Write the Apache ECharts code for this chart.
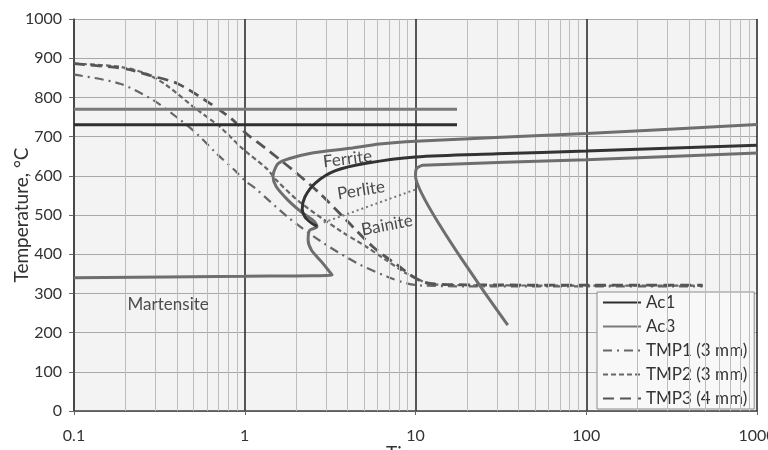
<!DOCTYPE html>
<html>
<head>
<meta charset="utf-8">
<script src="https://cdn.jsdelivr.net/npm/echarts@6/dist/echarts.min.js"></script>
<style>
html,body{margin:0;padding:0;background:#fff;}
#chart{width:768px;height:450px;}
</style>
</head>
<body>
<div id="chart"></div>
<script>
// ---- data (time in s, temperature in °C) ----
const xTickLabels = ['0.1', '1', '10', '100', '1000'];
const minorGridX = [0.2,0.3,0.4,0.5,0.6,0.7,0.8,0.9, 2,3,4,5,6,7,8,9, 20,30,40,50,60,70,80,90, 200,300,400,500,600,700,800,900];

const ac1 = [[0.1, 730], [17.5, 730]];
const ac3 = [[0.1, 770], [17.5, 770]];

const tmp1 = [[0.1,858],[0.186,835],[0.291,793],[0.398,750],[0.522,708],[0.683,657],[0.874,614],[1.0,588],[1.145,569],[1.83,491],[2.81,432],[4.6,376],[6.89,342],[9.0,325],[11,320],[20,318],[100,318],[480,318]];
const tmp2 = [[0.1,886],[0.186,878],[0.266,860],[0.348,831],[0.5,776],[0.714,725],[0.977,668],[1.34,619],[1.53,589],[2.1,533],[3.59,461],[5.15,419],[6.73,385],[8.83,351],[10.6,334],[12,324],[20,321],[100,320],[480,320]];
const tmp3 = [[0.1,886],[0.2,873],[0.278,856],[0.4,836],[0.6,790],[0.854,742],[1.02,708],[1.28,675],[1.92,614],[2.75,555],[3.93,487],[5.63,419],[8.06,368],[9.5,345],[11,330],[13,324],[20,322],[100,321],[480,321]];

// ferrite start curve + bainite nose + martensite start line
const ferriteCurve = [[1000,731],[100,708],[10,688],[6.16,681],[4.11,670],[2.4,657],[1.83,644],[1.566,631],[1.48,610],[1.465,597],[1.53,572],[1.79,538],[2.14,508],[2.56,483],[2.65,470],[2.4,461],[2.35,436],[2.46,410],[2.81,381],[3.25,347],[1,344],[0.1,340]];
// pearlite start curve
const perliteCurve = [[1000,678],[100,663],[30,656],[10,648],[5.15,632],[3.4,613],[2.6,582],[2.25,546],[2.17,515],[2.25,495],[2.45,480],[2.65,471]];
// finish curve
const finishCurve = [[1000,658],[100,641],[11,627],[10.15,619],[10,600],[34.7,219]];
// pearlite / bainite boundary
const boundary = [[2.9,481],[10,565]];

const regionLabels = [
  {name:'Ferrite', value:[4.0,643], rot:7},
  {name:'Perlite', value:[4.8,563], rot:9},
  {name:'Bainite', value:[6.8,474], rot:11},
  {name:'Martensite', value:[0.356,272], rot:0}
];

const FONT = 'Lato';
const chart = echarts.init(document.getElementById('chart'), null, {renderer:'canvas'});

const option = {
  animation: false,
  backgroundColor: '#ffffff',
  textStyle: {fontFamily: FONT},
  grid: {left: 74, right: 11, top: 19, bottom: 39, show: true, backgroundColor: '#f3f3f3', borderWidth: 0,
    containLabel: false, outerBoundsMode: 'none'},
  legend: {
    orient: 'vertical', left: 597, top: 292,
    data: ['Ac1','Ac3','TMP1 (3 mm)','TMP2 (3 mm)','TMP3 (4 mm)'],
    itemWidth: 38, itemHeight: 14, itemGap: 7,
    padding: [2, 7, 2, 5],
    backgroundColor: '#f8f8f8', borderColor: '#8a8a8a', borderWidth: 1,
    itemStyle: {opacity: 0},
    textStyle: {fontFamily: FONT, fontSize: 17, lineHeight: 14, color: '#333'}
  },
  xAxis: {
    type: 'log', logBase: 10, min: 0.1, max: 1000,
    name: 'Time, s', nameLocation: 'middle', nameGap: 33, nameMoveOverlap: false,
    nameTextStyle: {fontFamily: FONT, fontSize: 19, color: '#333'},
    axisLine: {show: true, lineStyle: {color: '#444', width: 1.5}},
    axisTick: {show: true, length: 4, lineStyle: {color: '#666'}},
    axisLabel: {fontFamily: FONT, fontSize: 16, color: '#333', margin: 17,
      formatter: function (v) { const i = Math.round(Math.log10(v)) + 1; return xTickLabels[i]; }},
    splitLine: {show: true, lineStyle: {color: '#222', width: 1.5}}
  },
  yAxis: {
    type: 'value', min: 0, max: 1000, interval: 100,
    name: 'Temperature, °C', nameLocation: 'middle', nameGap: 43, nameMoveOverlap: false,
    nameTextStyle: {fontFamily: FONT, fontSize: 19, color: '#333'},
    axisLine: {show: true, lineStyle: {color: '#444', width: 1.5}},
    axisTick: {show: true, length: 5, lineStyle: {color: '#666'}},
    axisLabel: {fontFamily: FONT, fontSize: 16, color: '#333', margin: 12,
      formatter: function (v) { return String(v); }},
    splitLine: {show: true, lineStyle: {color: '#a8a8a8', width: 1}}
  },
  series: [
    {
      name: 'grid-minor', type: 'line', data: [[0.1, 0]], showSymbol: false, symbol: 'none',
      lineStyle: {opacity: 0}, silent: true, z: 1,
      markLine: {
        silent: true, symbol: ['none','none'], label: {show: false}, animation: false,
        lineStyle: {color: '#bdbdbd', width: 1, type: 'solid'},
        emphasis: {disabled: true},
        data: minorGridX.map(v => ({xAxis: v}))
      }
    },
    {name: 'Ac1', type: 'line', data: ac1, symbol: 'none', z: 5,
      lineStyle: {color: '#2e2e2e', width: 3}, itemStyle: {color: '#2e2e2e'}},
    {name: 'Ac3', type: 'line', data: ac3, symbol: 'none', z: 5,
      lineStyle: {color: '#7a7a7a', width: 3}, itemStyle: {color: '#7a7a7a'}},
    {name: 'TMP1 (3 mm)', type: 'line', data: tmp1, symbol: 'none', smooth: 0.3, z: 4,
      lineStyle: {color: '#666', width: 2.2, type: [9,5,2,5]}, itemStyle: {color: '#666'}},
    {name: 'TMP2 (3 mm)', type: 'line', data: tmp2, symbol: 'none', smooth: 0.3, z: 4,
      lineStyle: {color: '#666', width: 2.2, type: [5,3]}, itemStyle: {color: '#666'}},
    {name: 'TMP3 (4 mm)', type: 'line', data: tmp3, symbol: 'none', smooth: 0.3, z: 4,
      lineStyle: {color: '#555', width: 2.8, type: [11,6]}, itemStyle: {color: '#555'}},
    {name: 'ferrite', type: 'line', data: ferriteCurve, symbol: 'none', smooth: 0.25, z: 5,
      lineStyle: {color: '#6e6e6e', width: 3}},
    {name: 'perlite', type: 'line', data: perliteCurve, symbol: 'none', smooth: 0.3, z: 5,
      lineStyle: {color: '#333', width: 3}},
    {name: 'finish', type: 'line', data: finishCurve, symbol: 'none', smooth: 0.15, z: 5,
      lineStyle: {color: '#6e6e6e', width: 3}},
    {name: 'boundary', type: 'line', data: boundary, symbol: 'none', z: 5,
      lineStyle: {color: '#777', width: 2, type: [2,3]}},
    {name: 'labels', type: 'scatter', symbolSize: 0, z: 6, silent: true,
      data: regionLabels.map(d => ({name: d.name, value: d.value,
        label: {show: true, position: 'inside', formatter: '{b}', rotate: d.rot,
          fontFamily: FONT, fontSize: 17, color: '#222'}}))}
  ]
};
chart.setOption(option);
</script>
</body>
</html>
